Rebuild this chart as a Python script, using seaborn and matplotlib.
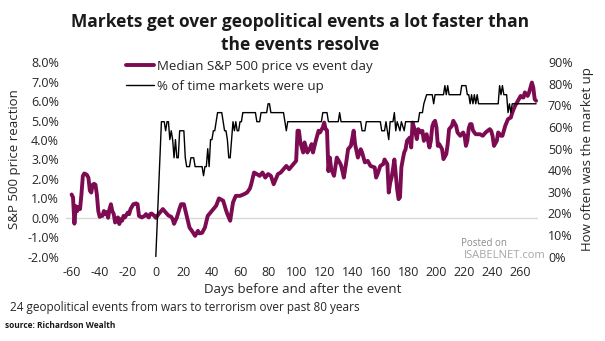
import matplotlib
matplotlib.use("Agg")
import matplotlib.pyplot as plt
import seaborn as sns
import pandas as pd

# ---- data ----
price_days = [-60, -59, -58, -57, -56, -55, -54, -53, -52, -51, -50, -49, -48, -47, -46, -45, -44, -43,
              -42, -41, -40, -39, -38, -37, -36, -35, -34, -33, -32, -31, -30, -29, -28, -27, -26, -25,
              -24, -23, -22, -20, -19, -18, -16, -14, -13, -12, -10, -8, -7, -6, -5, -4, -3, -1,
              0, 2, 5, 7, 9, 11, 12, 13, 15, 17, 18, 20, 22, 24, 26, 28, 30, 31, 33, 35, 37, 40,
              43, 45, 46, 48, 50, 51, 53, 55, 57, 60, 63, 65, 67, 68, 70, 72, 74, 76, 78, 80, 82,
              84, 85, 87, 89, 91, 93, 95, 98, 100, 101, 102, 103, 105, 106, 108, 110, 111, 112, 114,
              116, 117, 119, 120, 121, 122, 123, 124, 125, 127, 129, 131, 132, 133, 134, 136, 137,
              139, 141, 142, 144, 146, 147, 149, 151, 153, 156, 157, 158, 160, 162, 163, 165, 166,
              167, 168, 169, 170, 172, 173, 174, 175, 176, 177, 178, 179, 180, 181, 182, 183, 185,
              186, 187, 189, 190, 191, 193, 195, 196, 197, 198, 199, 200, 201, 202, 204, 205, 207,
              208, 209, 211, 212, 214, 215, 217, 219, 220, 221, 222, 223, 224, 225, 226, 227, 228,
              231, 233, 235, 238, 239, 240, 241, 243, 244, 246, 247, 249, 251, 253, 254, 255, 256,
              258, 260, 261, 262, 263, 265, 266, 267, 268, 269, 270, 271]
price_vals = [1.2, 1.05, -0.3, 0.6, 0.35, 0.55, 0.45, 1.2, 2.15, 2.28, 2.25, 2.2, 2.05, 1.4, 1.3, 1.7,
              1.75, 1.7, 1.2, 0.35, 0.05, 0.1, 0.1, 0.35, 0.2, 0.3, 0.0, 0.45, 0.7, 0.35, 0.2, -0.24,
              -0.1, 0.02, -0.32, -0.07, -0.15, 0.1, 0.02, 0.27, 0.19, 0.45, 0.7, 0.74, 0.7, 0.1, 0.02,
              0.1, 0.19, 0.1, 0.02, 0.19, 0.22, 0.1,
              0.0, 0.19, 0.45, 0.28, 0.12, 0.05, -0.07, -0.31, 0.02, 0.5, 0.7, 0.7, 0.1, -0.5, -0.7,
              -0.93, -0.67, -0.8, -0.77, -0.5, 0.1, 0.36,
              0.62, 1.0, 0.96, 0.88, 0.4, 0.19, -0.15, 0.79, 1.13, 1.13, 1.22, 1.3, 1.5, 1.73, 2.33,
              2.25, 2.16, 2.33, 2.07, 2.25, 2.16,
              1.73, 1.9, 2.25, 2.33, 2.5, 2.67, 2.5, 2.76, 2.93, 4.48, 4.48, 3.88, 3.36, 3.88, 3.36,
              3.6, 3.79, 3.36, 3.96,
              4.48, 4.39, 4.65, 4.9, 4.56, 4.5, 2.4, 3.1, 2.5, 2.16, 3.1, 2.85, 2.7, 2.4, 2.07, 3.0,
              3.53,
              3.7, 4.48, 3.79, 3.1, 3.53, 3.36, 2.85, 2.93, 2.67, 2.59, 2.07, 2.24, 2.67, 2.76, 3.0,
              2.76, 1.3,
              1.8, 2.07, 2.5, 3.0, 1.47, 0.96, 1.05, 2.6, 3.0, 3.36, 3.53, 3.96, 4.05, 4.13, 3.62,
              4.9, 4.4,
              4.05, 4.56, 4.39, 4.47, 3.96, 4.3, 3.62, 3.96, 4.7, 4.9, 4.99, 4.65, 3.7, 3.79, 3.53,
              3.02, 3.28,
              3.79, 4.56, 4.73, 4.99, 4.73, 4.39, 4.22, 4.39, 4.22, 3.7, 3.96, 4.6, 4.82, 4.82, 4.5,
              4.39, 4.3,
              4.3, 4.22, 4.39, 4.56, 4.47, 4.2, 3.7, 3.96, 4.39, 4.22, 4.22, 4.73, 5.08, 5.16, 5.4,
              5.59, 5.76,
              6.02, 6.27, 6.2, 6.19, 6.45, 6.27, 6.45, 6.7, 6.96, 6.7, 6.1, 6.02]

up_days = [0, 4, 6, 7, 8, 9, 10, 11, 12, 13, 14, 15, 16, 17, 20, 21, 22, 24, 25, 27, 28, 33, 34, 35,
           36, 37, 38, 39, 40, 41, 42, 43, 44, 47, 48, 49, 50, 51, 52, 53, 54, 55, 56, 57, 58, 59,
           60, 61, 62, 71, 72, 74, 75, 79, 80, 81, 82, 91, 92, 93, 94, 118, 119, 122, 123, 130,
           131, 132, 146, 147, 149, 150, 160, 161, 163, 164, 165, 166, 167, 169, 170, 171, 172,
           174, 175, 177, 178, 187, 188, 190, 191, 193, 197, 198, 199, 205, 206, 207, 208, 209,
           217, 218, 221, 222, 223, 224, 225, 226, 227, 228, 229, 230, 244, 245, 246, 247, 248,
           250, 251, 252, 253, 254, 271]
up_vals = [0, 62.5, 62.5, 58.3, 62.5, 62.5, 54.2, 58.3, 54.2, 45.8, 54.2, 45.8, 45.8, 58.3, 58.3,
           45.8, 41.7, 41.7, 45.8, 45.8, 41.7, 41.7, 37.5, 41.7,
           41.7, 50.0, 41.7, 54.2, 54.2, 58.3, 58.3, 62.5, 66.7, 66.7, 62.5, 58.3, 58.3, 54.2, 45.8,
           45.8, 54.2, 62.5, 58.3, 62.5, 58.3, 58.3,
           62.5, 62.5, 66.7, 66.7, 62.5, 62.5, 66.7, 66.7, 70.8, 70.8, 66.7, 66.7, 62.5, 58.3, 62.5,
           62.5, 66.7, 66.7, 62.5, 62.5,
           66.7, 62.5, 62.5, 58.3, 58.3, 62.5, 62.5, 58.3, 58.3, 62.5, 58.3, 54.2, 62.5, 62.5, 66.7,
           58.3, 62.5,
           58.3, 62.5, 58.3, 62.5, 62.5, 66.7, 66.7, 70.8, 75.0, 75.0, 70.8, 75.0, 75.0, 79.2, 75.0,
           79.2, 75.0,
           75.0, 79.2, 79.2, 75.0, 75.0, 70.8, 75.0, 70.8, 75.0, 70.8, 75.0, 70.8, 70.8, 79.2, 75.0,
           79.2, 75.0,
           75.0, 66.7, 70.8, 66.7, 70.8, 70.8]

x_ticks = list(range(-60, 261, 20))
left_ticks = [-2, -1, 0, 1, 2, 3, 4, 5, 6, 7, 8]
right_ticks = [0, 10, 20, 30, 40, 50, 60, 70, 80, 90]

title_lines = ["Markets get over geopolitical events a lot faster than", "the events resolve"]
label_price = "Median S&P 500 price vs event day"
label_up = "% of time markets were up"

price_df = pd.DataFrame({"day": price_days, "value": price_vals})
up_df = pd.DataFrame({"day": up_days, "value": up_vals})

# ---- style ----
sns.set_theme(style="white")
plt.rcParams["font.family"] = ["Open Sans", "DejaVu Sans"]

MAGENTA = "#7d0b52"
TXT = "#262626"

fig = plt.figure(figsize=(6.05, 3.41), dpi=100)
W, H = 605, 341
ax_l, ax_r, ax_t, ax_b = 66, 537.5, 62.3, 256.7
ax = fig.add_axes([ax_l / W, 1 - ax_b / H, (ax_r - ax_l) / W, (ax_b - ax_t) / H])
ax2 = ax.twinx()

ax.axhline(0, color="#d9d9d9", lw=1.0, zorder=0)
sns.lineplot(data=price_df, x="day", y="value", ax=ax, color=MAGENTA, lw=2.8,
             label=label_price, legend=False)
sns.lineplot(data=up_df, x="day", y="value", ax=ax2, color="black", lw=1.0,
             label=label_up, legend=False)

ax.set_xlim(-64, 272)
ax.set_ylim(-2, 8)
ax2.set_ylim(0, 90)
ax.set_xticks(x_ticks)
ax.set_xticklabels([str(t) for t in x_ticks])
ax.set_yticks(left_ticks)
ax.set_yticklabels([f"{t:.1f}%" for t in left_ticks])
ax2.set_yticks(right_ticks)
ax2.set_yticklabels([f"{t}%" for t in right_ticks])
ax.set_xlabel("")
ax.set_ylabel("")
ax2.set_ylabel("")

for a in (ax, ax2):
    for s in a.spines.values():
        s.set_visible(False)
    a.grid(False)
ax.tick_params(axis="x", length=0, pad=6.5, labelsize=9, labelcolor=TXT)
ax.tick_params(axis="y", length=0, pad=5, labelsize=9, labelcolor=TXT)
ax2.tick_params(axis="y", length=0, pad=7.5, labelsize=9, labelcolor=TXT)

# axis titles
ax.text((15 - ax_l) / (ax_r - ax_l), 0.5, "S&P 500 price reaction", transform=ax.transAxes,
        rotation=90, ha="center", va="center", fontsize=9.5, color=TXT)
ax.text((588 - ax_l) / (ax_r - ax_l), 0.5, "How often was the market up", transform=ax.transAxes,
        rotation=90, ha="center", va="center", fontsize=9.5, color=TXT)
ax.text(0.503, (ax_b - 290) / (ax_b - ax_t), "Days before and after the event", transform=ax.transAxes,
        ha="center", va="center", fontsize=9.5, color=TXT)

# legend
h1, l1 = ax.get_legend_handles_labels()
h2, l2 = ax2.get_legend_handles_labels()
leg = ax2.legend(h1 + h2, l1 + l2, loc="upper left",
                 bbox_to_anchor=((126 - ax_l) / (ax_r - ax_l), (ax_b - 60) / (ax_b - ax_t)),
                 frameon=False, fontsize=9.5, handlelength=2.1, handletextpad=0.25,
                 labelspacing=0.5, borderpad=0, borderaxespad=0)
for t in leg.get_texts():
    t.set_color(TXT)

# title
fig.text(300 / W, 1 - 22 / H, title_lines[0], ha="center", va="center", fontsize=12.5,
         fontweight="bold", color="#1a1a1a")
fig.text(300 / W, 1 - 45 / H, title_lines[1], ha="center", va="center", fontsize=12.5,
         fontweight="bold", color="#1a1a1a")

# footnotes
fig.text(10 / W, 1 - 308 / H, "24 geopolitical events from wars to terrorism over past 80 years",
         ha="left", va="center", fontsize=8.5, color=TXT)
fig.text(5 / W, 1 - 325 / H, "source: Richardson Wealth", ha="left", va="center", fontsize=6,
         fontweight="bold", color="#1a1a1a")

# watermark
fig.text(484 / W, 1 - 243 / H, "Posted on", ha="center", va="center", fontsize=7, color="#8c8c8c")
fig.text(505 / W, 1 - 255 / H, "ISABELNET.com", ha="center", va="center", fontsize=8,
         color="#a6a6a6")

fig.savefig("out.png", dpi=100)
